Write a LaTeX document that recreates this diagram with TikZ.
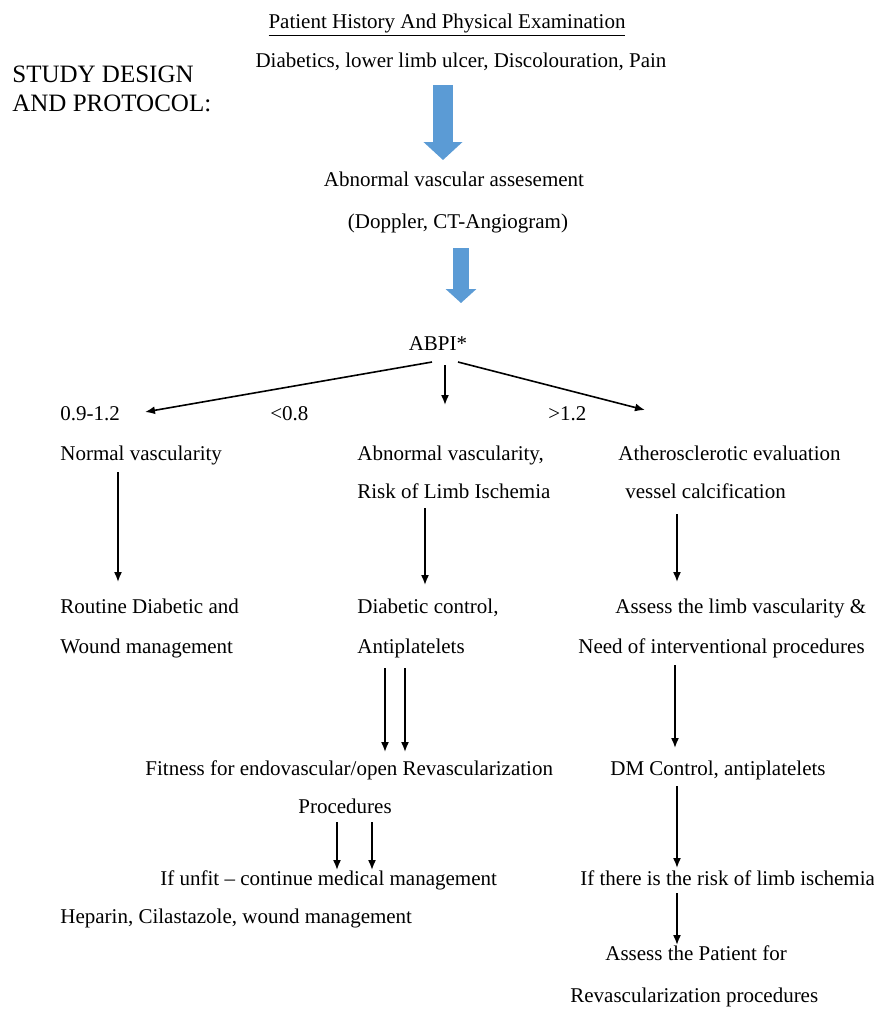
\documentclass[tikz,border=0pt]{standalone}
\usepackage{fontspec}
\setmainfont{Liberation Serif}
\usepackage{xcolor}
\usetikzlibrary{arrows.meta,calc}

\definecolor{flowblue}{RGB}{91,155,213}

\begin{document}
\begin{tikzpicture}[x=0.5pt, y=-0.5pt,
    txt/.style={inner sep=0pt, anchor=base west, font=\fontsize{10.5}{12}\selectfont},
    ctxt/.style={txt, anchor=base},
    arr/.style={-{Latex[length=5pt,width=4pt]}, thick},
    bigarrow/.style={flowblue, line width=#1}]
    \useasboundingbox (0,0) rectangle (874,1009);

    % Title block
    \node[txt, font=\fontsize{12.5}{14}\selectfont] (study1) at (12,82) {STUDY DESIGN};
    \node[txt, font=\fontsize{12.5}{14}\selectfont] (study2) at (12,111) {AND PROTOCOL:};
    \node[ctxt] (hist) at (447,28) {\underline{Patient History And Physical Examination}};
    \node[ctxt] (diab) at (461,67) {Diabetics, lower limb ulcer, Discolouration, Pain};
    \node[ctxt] (avas) at (454,186) {Abnormal vascular assesement};
    \node[ctxt] (dopp) at (458,228) {(Doppler, CT-Angiogram)};
    \node[ctxt] (abpi) at (438,350) {ABPI*};

    % Blue arrows
    \draw[bigarrow=10pt, -{Triangle[width=19pt,length=9pt]}] ($(diab.base)+(-18,18)$) -- ($(avas.base)+(-11,-26)$);
    \draw[bigarrow=8pt, -{Triangle[width=15pt,length=7pt]}] ($(dopp.base)+(3,20)$) -- ($(abpi.base)+(23,-47)$);

    % ABPI ranges
    \node[txt] (r1) at (60,420) {0.9-1.2};
    \node[txt] (r2) at (270,420) {<0.8};
    \node[txt] (r3) at (548,420) {>1.2};

    % Left branch
    \node[txt] (nv) at (60,460) {Normal vascularity};
    \node[txt] (rd1) at (60,613) {Routine Diabetic and};
    \node[txt] (rd2) at (60,653) {Wound management};

    % Middle branch
    \node[txt] (av1) at (357,460) {Abnormal vascularity,};
    \node[txt] (av2) at (357,498) {Risk of Limb Ischemia};
    \node[txt] (dc1) at (357,613) {Diabetic control,};
    \node[txt] (dc2) at (357,653) {Antiplatelets};
    \node[txt] (fit) at (145,775) {Fitness for endovascular/open Revascularization};
    \node[txt] (proc) at (298,813) {Procedures};
    \node[txt] (unfit) at (160,885) {If unfit -- continue medical management};
    \node[txt] (hep) at (60,923) {Heparin, Cilastazole, wound management};

    % Right branch
    \node[txt] (at1) at (618,460) {Atherosclerotic evaluation};
    \node[txt] (at2) at (625,498) {vessel calcification};
    \node[txt] (as1) at (615,613) {Assess the limb vascularity \&};
    \node[txt] (as2) at (578,653) {Need of interventional procedures};
    \node[txt] (dm) at (610,775) {DM Control, antiplatelets};
    \node[txt] (risk) at (580,885) {If there is the risk of limb ischemia};
    \node[txt] (ap1) at (605,960) {Assess the Patient for};
    \node[txt] (ap2) at (570,1002) {Revascularization procedures};

    % Arrows
    \draw[arr] ($(abpi.base)+(-6,12)$) -- ($(r1.base west)+(85,-8)$);
    \draw[arr] ($(abpi.base)+(7,15)$) -- ($(av1.base west)+(88,-55)$);
    \draw[arr] ($(abpi.base)+(20,12)$) -- ($(r3.base west)+(97,-10)$);
    \draw[arr] ($(nv.base west)+(58,12)$) -- ($(rd1.base west)+(58,-31)$);
    \draw[arr] ($(av2.base west)+(68,10)$) -- ($(dc1.base west)+(68,-28)$);
    \draw[arr] ($(at2.base west)+(52,16)$) -- ($(as1.base west)+(62,-31)$);
    \draw[arr] ($(dc2.base west)+(28,15)$) -- ($(fit.base west)+(240,-23)$);
    \draw[arr] ($(dc2.base west)+(48,15)$) -- ($(fit.base west)+(260,-23)$);
    \draw[arr] ($(as2.base west)+(97,12)$) -- ($(dm.base west)+(65,-27)$);
    \draw[arr] ($(proc.base west)+(39,9)$) -- ($(unfit.base west)+(177,-15)$);
    \draw[arr] ($(proc.base west)+(74,9)$) -- ($(unfit.base west)+(212,-15)$);
    \draw[arr] ($(dm.base west)+(67,11)$) -- ($(risk.base west)+(97,-17)$);
    \draw[arr] ($(risk.base west)+(97,8)$) -- ($(ap1.base west)+(72,-15)$);
\end{tikzpicture}
\end{document}
